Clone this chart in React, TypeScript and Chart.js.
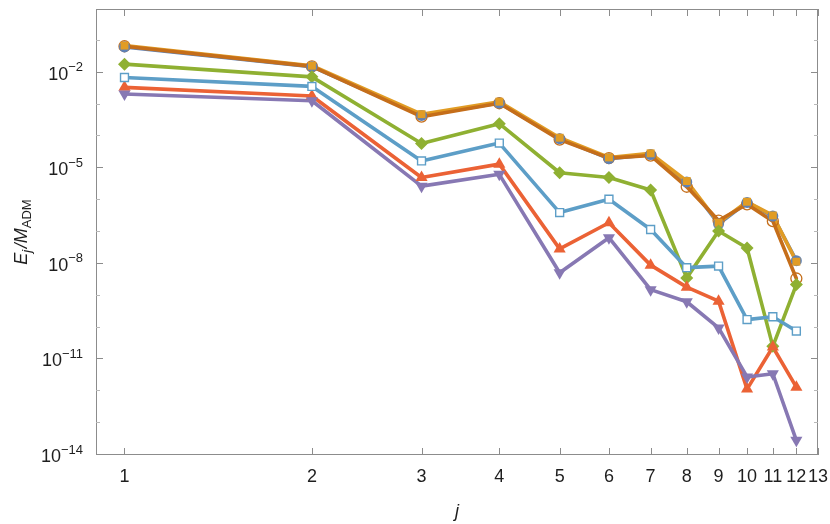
import React, { useEffect, useRef } from "react";
import { Chart, registerables } from "chart.js";

Chart.register(...registerables);

// ---- data ----
const J = [1, 2, 3, 4, 5, 6, 7, 8, 9, 10, 11, 12];

const blueCircle = [6.46e-2, 1.55e-2, 4.57e-4, 1.12e-3, 8.5e-5, 2.0e-5, 2.69e-5, 3.72e-6, 1.78e-7, 8.5e-7, 3.16e-7, 1.26e-8];
const goldSquare = [7.08e-2, 1.66e-2, 5.0e-4, 1.23e-3, 9.1e-5, 2.19e-5, 2.95e-5, 3.98e-6, 1.95e-7, 8.9e-7, 3.31e-7, 1.17e-8];
const greenDiamond = [1.86e-2, 7.41e-3, 6.03e-5, 2.51e-4, 7.24e-6, 5.13e-6, 2.09e-6, 3.63e-9, 1.07e-7, 3.16e-8, 2.57e-11, 2.24e-9];
const redTriangle = [3.47e-3, 1.86e-3, 5.13e-6, 1.35e-5, 2.95e-8, 1.95e-7, 9.12e-9, 1.86e-9, 6.76e-10, 1.17e-12, 2.45e-11, 1.35e-12];
const purpleTriangle = [2.14e-3, 1.32e-3, 2.75e-6, 6.46e-6, 5.25e-9, 6.61e-8, 1.55e-9, 6.46e-10, 9.77e-11, 2.82e-12, 3.55e-12, 2.88e-14];
const orangeOpenCircle = [6.76e-2, 1.58e-2, 4.17e-4, 1.10e-3, 7.94e-5, 2.09e-5, 2.51e-5, 2.63e-6, 2.29e-7, 7.41e-7, 2.19e-7, 3.47e-9];
const lightBlueOpenSquare = [7.08e-3, 3.72e-3, 1.70e-5, 6.17e-5, 4.07e-7, 1.07e-6, 1.20e-7, 7.59e-9, 8.51e-9, 1.78e-10, 2.19e-10, 7.76e-11];

const X_TICKS = [1, 2, 3, 4, 5, 6, 7, 8, 9, 10, 11, 12, 13];
const Y_MAJOR_EXP = [-14, -11, -8, -5, -2];
const Y_MINOR_EXP = [-13, -12, -10, -9, -7, -6, -4, -3, -1];

const FONT = '"Liberation Sans", Arial, Helvetica, sans-serif';

type Style = {
  name: string;
  values: number[];
  color: string;
  point: string;
  radius: number;
  rotation: number;
  fill: string;
  markerBorder: number;
};

const SERIES: Style[] = [
  { name: "s1", values: blueCircle, color: "#5E81B5", point: "circle", radius: 5.5, rotation: 0, fill: "#5E81B5", markerBorder: 0 },
  { name: "s2", values: goldSquare, color: "#E19C24", point: "rect", radius: 5.6, rotation: 0, fill: "#E19C24", markerBorder: 0 },
  { name: "s3", values: greenDiamond, color: "#8FB032", point: "rectRot", radius: 6.5, rotation: 0, fill: "#8FB032", markerBorder: 0 },
  { name: "s4", values: redTriangle, color: "#EB6235", point: "triangle", radius: 7, rotation: 0, fill: "#EB6235", markerBorder: 0 },
  { name: "s5", values: purpleTriangle, color: "#8778B3", point: "triangle", radius: 7, rotation: 180, fill: "#8778B3", markerBorder: 0 },
  { name: "s6", values: orangeOpenCircle, color: "#C56E1A", point: "circle", radius: 5.5, rotation: 0, fill: "rgba(0,0,0,0)", markerBorder: 1.3 },
  { name: "s7", values: lightBlueOpenSquare, color: "#5D9EC7", point: "rect", radius: 5.6, rotation: 0, fill: "#ffffff", markerBorder: 1.4 },
];

// marker drawing order (first = bottom)
const MARKER_ORDER = ["s6", "s1", "s2", "s3", "s4", "s5", "s7"];

const framePlugin = {
  id: "mmaFrame",
  afterDatasetsDraw(chart: any) {
    const { ctx, chartArea: a, scales } = chart;
    const xs = scales.x;
    const ys = scales.y;
    ctx.save();
    ctx.lineWidth = 1;
    ctx.strokeStyle = "#8c8c8c";
    ctx.strokeRect(a.left + 0.5, a.top + 0.5, a.right - a.left - 1, a.bottom - a.top - 1);

    // x ticks (bottom and top)
    for (const t of X_TICKS) {
      const px = Math.round(xs.getPixelForValue(t)) + 0.5;
      ctx.beginPath();
      ctx.moveTo(px, a.bottom);
      ctx.lineTo(px, a.bottom - 7);
      ctx.moveTo(px, a.top);
      ctx.lineTo(px, a.top + 7);
      ctx.stroke();
    }
    // y major ticks
    for (const e of Y_MAJOR_EXP) {
      const py = Math.round(ys.getPixelForValue(Math.pow(10, e))) - 0.5;
      ctx.beginPath();
      ctx.moveTo(a.left, py);
      ctx.lineTo(a.left + 7, py);
      ctx.moveTo(a.right, py);
      ctx.lineTo(a.right - 7, py);
      ctx.stroke();
    }
    ctx.strokeStyle = "#b8b8b8";
    for (const e of Y_MINOR_EXP) {
      const py = Math.round(ys.getPixelForValue(Math.pow(10, e))) - 0.5;
      ctx.beginPath();
      ctx.moveTo(a.left, py);
      ctx.lineTo(a.left + 4, py);
      ctx.moveTo(a.right, py);
      ctx.lineTo(a.right - 4, py);
      ctx.stroke();
    }

    // tick labels
    ctx.fillStyle = "#1e1e1e";
    ctx.textBaseline = "alphabetic";
    ctx.font = `18px ${FONT}`;
    ctx.textAlign = "center";
    for (const t of X_TICKS) {
      const px = xs.getPixelForValue(t);
      ctx.fillText(String(t), px, 482);
    }
    ctx.textAlign = "left";
    for (const e of Y_MAJOR_EXP) {
      const py = ys.getPixelForValue(Math.pow(10, e));
      const base = "10";
      const sup = "\u2212" + String(Math.abs(e));
      ctx.font = `18px ${FONT}`;
      const wb = ctx.measureText(base).width;
      ctx.font = `13px ${FONT}`;
      const ws = ctx.measureText(sup).width;
      const right = 83;
      const x0 = right - wb - ws;
      ctx.font = `18px ${FONT}`;
      ctx.fillText(base, x0, py + 7);
      ctx.font = `13px ${FONT}`;
      ctx.fillText(sup, x0 + wb, py - 1.5);
    }

    // x axis title
    ctx.font = `italic 18px ${FONT}`;
    ctx.textAlign = "center";
    ctx.fillText("j", (a.left + a.right) / 2, 517);

    // y axis title, rotated
    const parts = [
      { t: "E", f: `italic 18px ${FONT}`, dy: 0 },
      { t: "j", f: `italic 13px ${FONT}`, dy: 4 },
      { t: "/", f: `italic 18px ${FONT}`, dy: 0 },
      { t: "M", f: `italic 18px ${FONT}`, dy: 0 },
      { t: "ADM", f: `13px ${FONT}`, dy: 4 },
    ];
    let total = 0;
    const widths: number[] = [];
    for (const p of parts) {
      ctx.font = p.f;
      const w = ctx.measureText(p.t).width + (p.t === "j" ? 1.5 : 0);
      widths.push(w);
      total += w;
    }
    ctx.save();
    ctx.translate(27, (a.top + a.bottom) / 2);
    ctx.rotate(-Math.PI / 2);
    ctx.textAlign = "left";
    let u = -total / 2;
    parts.forEach((p, i) => {
      ctx.font = p.f;
      ctx.fillText(p.t, u, p.dy);
      u += widths[i];
    });
    ctx.restore();

    ctx.restore();
  },
};

export default function App() {
  const ref = useRef<HTMLCanvasElement | null>(null);

  useEffect(() => {
    if (!ref.current) return;
    const lineSets = SERIES.map((s, k) => ({
      label: s.name + " line",
      data: J.map((j, i) => ({ x: j, y: s.values[i] })),
      borderColor: s.color,
      backgroundColor: s.color,
      borderWidth: 3.6,
      pointRadius: 0,
      pointHoverRadius: 0,
      fill: false,
      tension: 0,
      borderJoinStyle: "round" as const,
      borderCapStyle: "round" as const,
      order: 100 - k,
    }));
    const markerSets = SERIES.map((s) => ({
      label: s.name + " markers",
      data: J.map((j, i) => ({ x: j, y: s.values[i] })),
      showLine: false,
      borderColor: s.color,
      backgroundColor: s.fill,
      pointStyle: s.point,
      pointRadius: s.radius,
      pointHoverRadius: s.radius,
      pointRotation: s.rotation,
      pointBorderWidth: s.markerBorder,
      pointBorderColor: s.color,
      pointBackgroundColor: s.fill,
      order: 50 - MARKER_ORDER.indexOf(s.name),
    }));

    const chart = new Chart(ref.current, {
      type: "line",
      data: { datasets: [...lineSets, ...markerSets] as any },
      options: {
        responsive: false,
        animation: false,
        events: [],
        layout: { padding: { left: 96, right: 12, top: 9, bottom: 69 } },
        plugins: { legend: { display: false }, tooltip: { enabled: false } },
        scales: {
          x: { type: "logarithmic", min: 0.9, max: 13, display: false },
          y: { type: "logarithmic", min: 1e-14, max: 1, display: false },
        },
      },
      plugins: [framePlugin],
    });
    return () => chart.destroy();
  }, []);

  return (
    <div style={{ position: "absolute", left: 0, top: 0, width: 830, height: 524, background: "#fff" }}>
      <canvas ref={ref} width={830} height={524} style={{ display: "block" }} />
    </div>
  );
}
